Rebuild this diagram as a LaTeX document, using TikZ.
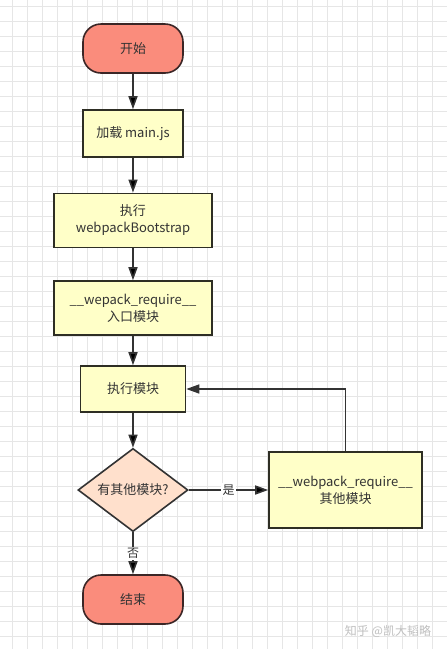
\documentclass[tikz,border=0pt]{standalone}
\usepackage{fontspec}
\setmainfont{Noto Sans CJK SC}
\usepackage{xcolor}
\usetikzlibrary{arrows.meta,shapes.geometric}

\definecolor{termfill}{HTML}{FA8C7C}
\definecolor{termdraw}{HTML}{3B2626}
\definecolor{boxfill}{HTML}{FFFFC8}
\definecolor{boxdraw}{HTML}{2E2E24}
\definecolor{decfill}{HTML}{FFE0CC}
\definecolor{linkcol}{HTML}{333333}
\definecolor{gridcol}{HTML}{E6E6E6}

\begin{document}
\begin{tikzpicture}[x=1pt, y=-1pt,
  terminal/.style={rectangle, rounded corners=18pt, draw=termdraw, line width=1.6pt, fill=termfill, minimum width=100pt, minimum height=49pt, font=\fontsize{13}{17}\selectfont, text=black!80},
  process/.style={rectangle, draw=boxdraw, line width=1.6pt, fill=boxfill, align=center, inner sep=0pt, font=\fontsize{13}{17}\selectfont, text=black!80},
  decision/.style={diamond, draw=linkcol, line width=1.6pt, fill=decfill, minimum width=110pt, minimum height=72pt, inner sep=0pt, font=\fontsize{13}{17}\selectfont, text=black!80},
  link/.style={-{Triangle[length=13pt,width=9pt]}, line width=1.6pt, draw=linkcol},
  tag/.style={fill=white, inner sep=1.5pt, font=\fontsize{12}{14}\selectfont, text=black!80}
]
  \useasboundingbox[fill=white] (0,0) rectangle (447,649);

  % Background grid
  \foreach \gx in {0,...,29}
    \draw[gridcol, line width=0.7pt] ({12.7+15*\gx},0) -- ({12.7+15*\gx},649);
  \foreach \gy in {0,...,43}
    \draw[gridcol, line width=0.7pt] (0,{6.7+15*\gy}) -- (447,{6.7+15*\gy});

  % Main column
  \node[terminal] (start) at (133, 48.5) {开始};
  \node[process, minimum width=100pt, minimum height=47pt] (load) at (133, 133.5) {加载 main.js};
  \node[process, minimum width=158pt, minimum height=54pt] (boot) at (133, 220.3) {执行\\webpackBootstrap};
  \node[process, minimum width=158pt, minimum height=54pt] (entry) at (133, 308) {\_\_wepack\_require\_\_\\入口模块};
  \node[process, minimum width=105pt, minimum height=46pt] (exec) at (133, 389) {执行模块};
  \node[decision] (more) at (133, 490) {有其他模块?};
  \node[terminal] (stop) at (133, 599.5) {结束};

  % Side branch
  \node[process, minimum width=153pt, minimum height=76pt] (other) at (345.5, 490) {\_\_webpack\_require\_\_\\其他模块};

  % Connections
  \path[link]
    (start) edge (load)
    (load) edge (boot)
    (boot) edge (entry)
    (entry) edge (exec)
    (exec) edge (more)
    (more) edge node[tag] {是} (other)
    (more) edge node[tag] {否} (stop);
  \draw[link] (other.north) |- (exec.east);

  % Watermark
  \node[text=black!25, font=\fontsize{12}{14}\selectfont] (mark) at (388, 631) {知乎 @凯大韬略};
\end{tikzpicture}
\end{document}
